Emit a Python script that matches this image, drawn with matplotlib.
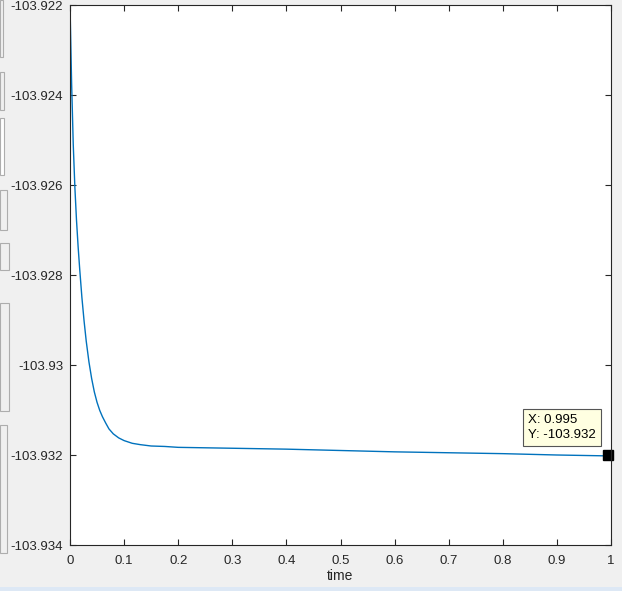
import matplotlib
matplotlib.use("Agg")
import matplotlib.pyplot as plt
from matplotlib.patches import Rectangle

plt.rcParams["font.family"] = ["Liberation Sans", "DejaVu Sans"]

# valores
t = [0.0, 0.003, 0.006, 0.009, 0.012, 0.015, 0.018, 0.022, 0.026, 0.030,
     0.035, 0.040, 0.045, 0.050, 0.055, 0.060, 0.066, 0.072, 0.080, 0.090,
     0.100, 0.115, 0.130, 0.150, 0.175, 0.2, 0.3, 0.4, 0.5, 0.6, 0.7, 0.8,
     0.9, 0.995]
y = [-103.92200, -103.92375, -103.92510, -103.92605, -103.92678, -103.92737,
     -103.92788, -103.92850, -103.92902, -103.92947, -103.92993, -103.93030,
     -103.93060, -103.93083, -103.93101, -103.93115, -103.93129, -103.93142,
     -103.93153, -103.93162, -103.93168, -103.93174, -103.93177, -103.93180,
     -103.93181, -103.93183, -103.93185, -103.93187, -103.93190, -103.93193,
     -103.93195, -103.93197, -103.93200, -103.93202]

xticks = [0, 0.1, 0.2, 0.3, 0.4, 0.5, 0.6, 0.7, 0.8, 0.9, 1]
xlabels = ["0", "0.1", "0.2", "0.3", "0.4", "0.5", "0.6", "0.7", "0.8", "0.9", "1"]
yticks = [-103.934, -103.932, -103.93, -103.928, -103.926, -103.924, -103.922]
ylabels = ["-103.934", "-103.932", "-103.93", "-103.928", "-103.926", "-103.924", "-103.922"]

tip_x = 0.995
tip_y = -103.932

fig = plt.figure(figsize=(6.22, 5.91), dpi=100, facecolor="#f0f0f0")
ax = fig.add_axes([70 / 622, 46 / 591, 541 / 622, 540 / 591])

ax.plot(t, y, color="#0072bd", linewidth=1.0)

ax.set_xlim(0, 1)
ax.set_ylim(-103.934, -103.922)
ax.set_xticks(xticks)
ax.set_xticklabels(xlabels)
ax.set_yticks(yticks)
ax.set_yticklabels(ylabels)
ax.tick_params(direction="in", top=True, right=True, length=4, width=0.8,
               labelsize=9.5, colors="#262626")
ax.tick_params(axis="x", pad=7)
ax.tick_params(axis="y", pad=5)
for s in ax.spines.values():
    s.set_color("#262626")
    s.set_linewidth(0.8)
ax.set_xlabel("time", fontsize=10, color="#262626", labelpad=2)

# datatip
ax.plot([tip_x], [tip_y], marker="s", markersize=7, color="black", clip_on=False)
ax.annotate("X: 0.995\nY: -103.932", xy=(tip_x, tip_y), xytext=(-9, 10),
            textcoords="offset points", fontsize=9.5, color="black",
            ha="right", va="bottom", multialignment="left", linespacing=1.35,
            bbox=dict(boxstyle="square,pad=0.4", facecolor="#ffffe1",
                      edgecolor="#555555", linewidth=0.8))

# restos de la interfaz a la izquierda
panels = [(0, 0, 3, 57, "#f0f0f0"), (0, 72, 4, 38, "#f0f0f0"),
          (0, 118, 4, 57, "white"), (0, 190, 7, 40, "#f0f0f0"),
          (0, 243, 9, 27, "#f0f0f0"), (0, 303, 9, 108, "#f0f0f0"),
          (0, 425, 7, 128, "#f0f0f0")]
for px, py, w, h, c in panels:
    fig.patches.append(Rectangle((px / 622, 1 - (py + h) / 591), w / 622, h / 591,
                                 transform=fig.transFigure, facecolor=c,
                                 edgecolor="#adadad", linewidth=0.8))
fig.patches.append(Rectangle((0, 0), 1, 4 / 591, transform=fig.transFigure,
                             facecolor="#dde8f5", edgecolor="none"))

fig.savefig("out.png", dpi=100, facecolor=fig.get_facecolor())
